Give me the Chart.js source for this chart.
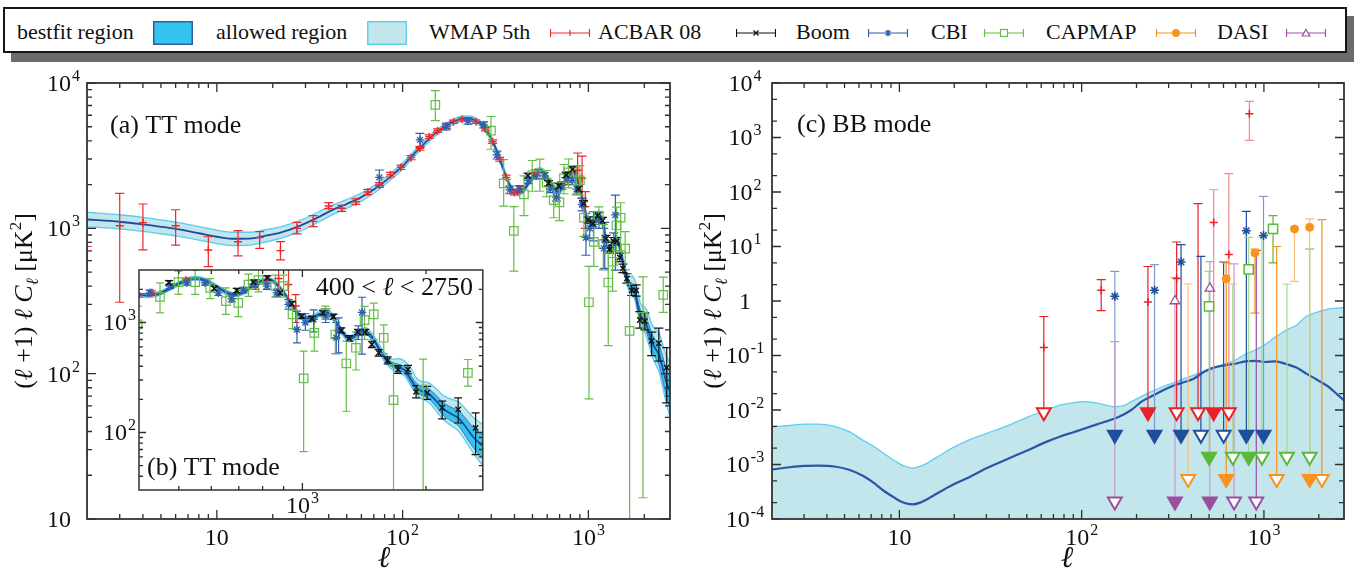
<!DOCTYPE html>
<html>
<head>
<meta charset="utf-8">
<title>CMB TT and BB power spectra</title>
<script src="https://cdn.jsdelivr.net/npm/chart.js@4.4.1/dist/chart.umd.min.js"></script>
<style>
  html, body { margin:0; padding:0; background:#fff; }
  #wrap { position:relative; width:1354px; height:572px; overflow:hidden; background:#fff;
          font-family:"Liberation Serif","Times New Roman",serif; color:#111; }
  #legendBox { position:absolute; left:3px; top:7px; width:1340px; height:42px; border:2px solid #151515;
               background:#fff; box-shadow:8px 9px 0 #6b6b6b; }
  .lt { position:absolute; top:21px; font-size:22px; line-height:22px; white-space:nowrap; }
  .sm { position:absolute; }
  canvas { position:absolute; }
</style>
</head>
<body>
<div id="wrap">
  <div id="legendBox"></div>
  <span class="lt" style="left:17px">bestfit region</span>
  <svg class="sm" style="left:153px;top:21px" width="40" height="24"><rect x="0.75" y="0.75" width="38.5" height="22.5" fill="#35c4ee" stroke="#2a5fa8" stroke-width="1.5"/></svg>
  <span class="lt" style="left:216px">allowed region</span>
  <svg class="sm" style="left:367px;top:21px" width="40" height="24"><rect x="0.75" y="0.75" width="38.5" height="22.5" fill="#c3e6ec" stroke="#62d0f2" stroke-width="1.5"/></svg>
  <span class="lt" style="left:429px">WMAP 5th</span>
  <svg class="sm" style="left:550px;top:26px" width="40" height="14" stroke="#ec2a2e" stroke-width="1.2" fill="none"><path d="M0.5 7H39.5M0.5 3V11M39.5 3V11M20 4V10M17 7H23"/></svg>
  <span class="lt" style="left:598px">ACBAR 08</span>
  <svg class="sm" style="left:736px;top:26px" width="40" height="14" stroke="#111" stroke-width="1.2" fill="none"><path d="M0.5 7H39.5M0.5 3V11M39.5 3V11M17.5 4.5L22.5 9.5M17.5 9.5L22.5 4.5"/></svg>
  <span class="lt" style="left:796px">Boom</span>
  <svg class="sm" style="left:868px;top:26px" width="40" height="14" stroke="#2f5fae" stroke-width="1.2" fill="none"><path d="M0.5 7H39.5M0.5 3V11M39.5 3V11M20 3.5V10.5M16.5 7H23.5M17.5 4.5L22.5 9.5M17.5 9.5L22.5 4.5"/></svg>
  <span class="lt" style="left:931px">CBI</span>
  <svg class="sm" style="left:984px;top:26px" width="40" height="14" stroke="#66bd47" stroke-width="1.2" fill="none"><path d="M0.5 7H16.5M23.5 7H39.5M0.5 3V11M39.5 3V11"/><rect x="16.5" y="3.5" width="7" height="7" fill="#fff"/></svg>
  <span class="lt" style="left:1046px">CAPMAP</span>
  <svg class="sm" style="left:1156px;top:26px" width="40" height="14" stroke="#f7931e" stroke-width="1.2" fill="none"><path d="M0.5 7H39.5M0.5 3V11M39.5 3V11"/><circle cx="20" cy="7" r="3.3" fill="#f7931e"/></svg>
  <span class="lt" style="left:1217px">DASI</span>
  <svg class="sm" style="left:1286px;top:26px" width="40" height="14" stroke="#9d52a1" stroke-width="1.2" fill="none"><path d="M0.5 7H39.5M0.5 3V11M39.5 3V11"/><path d="M20 3.5L23.8 10H16.2Z" fill="#fff"/></svg>

  <canvas id="cA" width="690" height="502" style="left:0px;top:70px"></canvas>
  <canvas id="cB" width="400" height="258" style="left:90px;top:262px"></canvas>
  <canvas id="cC" width="664" height="502" style="left:690px;top:70px"></canvas>
</div>

<script>
// ===================== DATA =====================
// --- TT: best-fit spectrum and allowed band, (l+1) l C_l [uK^2] ---
const ttEll      = [2,3,4,5,6,8,10,12,15,18,22,28,35,42,50,60,70,80,90,100,115,130,150,170,190,210,225,240,260,280,300,320,340,360,380,400,420,440,470,500,530,550,580,620,660,690,720,760,800,830,860,900,940,980,1010,1050,1100,1140,1180,1220,1260,1300,1340,1390,1430,1480,1540,1600,1660,1720,1780,1840,1900,1960,2020,2100,2200,2300,2400,2500,2600,2750];
const ttBest     = [1150,1110,1065,1025,990,925,875,848,850,885,935,1040,1190,1340,1470,1640,1850,2100,2380,2680,3250,3800,4500,5050,5450,5680,5720,5620,5300,4780,4150,3450,2800,2280,1950,1790,1750,1800,2000,2250,2480,2520,2420,2100,1830,1790,1880,2180,2420,2450,2280,1880,1480,1180,1090,1100,1200,1240,1150,950,790,710,740,820,830,730,570,460,410,390,365,300,255,236,228,200,165,148,135,112,92,75];
const ttAllowHi  = [1290,1240,1188,1142,1102,1028,972,940,940,975,1025,1135,1290,1445,1575,1748,1962,2218,2505,2812,3400,3968,4690,5255,5668,5905,5945,5842,5510,4970,4315,3588,2912,2372,2028,1862,1820,1872,2080,2340,2580,2620,2518,2185,1905,1862,1956,2268,2518,2550,2373,1958,1545,1235,1142,1155,1262,1306,1214,1005,838,756,790,880,895,792,625,510,462,470,440,380,308,290,286,258,218,202,190,163,138,118];
const ttAllowLo  = [1025,990,952,918,888,830,786,762,767,802,852,952,1098,1242,1372,1538,1744,1988,2260,2552,3106,3638,4316,4852,5240,5462,5502,5405,5096,4596,3990,3316,2692,2192,1874,1720,1682,1730,1922,2162,2383,2422,2325,2018,1758,1720,1806,2095,2325,2354,2190,1805,1418,1128,1040,1048,1142,1178,1090,898,745,668,695,768,775,678,525,420,370,348,322,262,220,200,190,163,132,116,103,83,66,50];
// --- TT: best-fit region band ---
const ttBandEll  = [400,440,500,550,620,690,760,830,900,980,1050,1140,1220,1300,1390,1480,1540,1600,1660,1720,1780,1840,1900,1960,2020,2100,2200,2300,2400,2500,2600,2750];
const ttBandHi   = [1830,1840,2300,2575,2145,1830,2225,2505,1920,1210,1125,1270,975,730,845,755,592,480,432,415,392,325,278,258,252,224,188,170,158,134,112,95];
const ttBandLo   = [1752,1762,2202,2465,2055,1750,2135,2395,1840,1150,1075,1210,925,690,795,705,548,440,390,368,340,278,233,216,206,178,144,128,115,92,74,58];

// --- TT measurements (null lower = extends below the axis) ---
const wmapEll = [2,3,4,6,9,13,17,22,27,33,40,47,56,65,75,86,98,111,124,139,154,172,188,209,248,279,305,333,361,399,430,520,770,817,875,925,963];
const wmapVal = [214,1042,1094,1042,710,809,863,702,1000,1116,1426,1374,1525,1778,1986,2340,2630,3064,3554,4274,4700,5010,5420,5620,5420,4820,3950,2987,2243,1765,1860,2430,2210,2450,2510,2213,1410];
const wmapLo  = [null,310,710,767,545,646,728,606,915,1026,1367,1310,1460,1705,1910,2255,2540,2965,3445,4150,4570,4880,5280,5480,5280,4690,3840,2900,2170,1700,1790,2340,2000,2250,2000,1618,1000];
const wmapHi  = [750,1740,1470,1342,875,964,948,809,1100,1222,1503,1440,1595,1855,2065,2430,2725,3165,3665,4400,4830,5145,5560,5765,5565,4955,4065,3075,2320,1835,1935,2530,2450,2670,3300,3140,1790];

const acbarEll = [473,610,692,760,822,883,942,997,1055,1122,1191,1244,1301,1365,1422,1476,1533,1613,1710,1808,1892,2013,2190,2395,2641];
const acbarVal = [2296,2037,1955,2328,2547,1862,1480,1142,1080,1224,1127,846,716,816,816,631,530,452,374,374,234,230,168,162,110];
const acbarLo  = [2200,1950,1870,2230,2440,1780,1410,1085,1025,1160,1065,800,675,770,770,590,495,420,345,342,206,200,133,122,63];
const acbarHi  = [2400,2130,2045,2430,2660,1950,1555,1200,1140,1290,1190,895,760,865,865,675,568,487,405,408,267,262,193,206,151];

const boomEll = [75,124,172,225,273,322,377,425,476,523,579,624,673,718,767,819,866,925,970,1017,1065,1140,1209,1225,1369,1397];
const boomVal = [2244,4060,5010,5475,5140,3200,1838,1862,2140,2296,2296,1862,1641,1968,2213,2140,1862,1459,863,1000,1065,1142,728,834,810,1236];
const boomLo  = [1960,3600,4750,5200,4900,3000,1730,1760,2030,2180,2180,1760,1540,1850,2080,2000,1720,1320,653,850,820,1000,520,530,700,516];
const boomHi  = [2520,4500,5300,5750,5400,3400,1950,1970,2250,2420,2420,1970,1750,2090,2350,2290,2010,1610,1268,1200,1300,1290,1000,1100,930,1695];

const cbiEll = [150,299,350,397,450,499,548,596,651,698,739,782,859,900,946,1007,1069,1138,1203,1279,1350,1417,1492,1578,1667,1968,2529];
const cbiVal = [7070,4700,2040,960,1711,2328,2328,2066,1563,1510,2213,2428,2140,2140,1183,310,806,1224,778,424,589,1050,1183,726,197,246,348];
const cbiLo  = [5510,3500,1420,508,1223,1800,1800,1650,1183,1130,1730,1900,1700,1700,880,67,548,1065,520,156,370,700,700,520,null,14,264];
const cbiHi  = [8850,5880,2970,1410,2296,2930,2990,2500,2066,1950,2750,3000,2700,2700,1520,548,1100,1407,1060,677,820,1400,1500,950,415,464,461];

// --- BB: allowed region (upper edge) and best fit ---
const bbEll     = [2,2.5,3,3.6,4.4,5.3,6.3,7.3,8.2,9.5,10.5,11.8,13,14.5,16,17.9,20,24,30,40,51,64,77,90,100,120,152,170,187,215,243,280,315,360,409,470,531,610,689,790,895,1020,1161,1320,1507,1720,1955,2250,2540,2750];
const bbAllowHi = [4.9e-3,5.2e-3,5.5e-3,5.5e-3,5.0e-3,4.0e-3,2.8e-3,2.1e-3,1.6e-3,1.15e-3,9.5e-4,8.6e-4,9.2e-4,1.1e-3,1.35e-3,1.7e-3,2.1e-3,2.8e-3,3.7e-3,5.3e-3,7.5e-3,1.0e-2,1.24e-2,1.36e-2,1.42e-2,1.35e-2,1.15e-2,1.2e-2,1.42e-2,1.8e-2,2.2e-2,2.7e-2,3.1e-2,3.7e-2,4.3e-2,5.2e-2,6.1e-2,7.0e-2,8.1e-2,1.05e-1,1.26e-1,1.6e-1,2.2e-1,2.9e-1,3.6e-1,5.3e-1,6.2e-1,7.1e-1,7.4e-1,7.6e-1];
const bbBest    = [8.1e-4,8.9e-4,9.4e-4,9.5e-4,9.2e-4,8.0e-4,6.2e-4,4.5e-4,3.3e-4,2.4e-4,2.0e-4,1.85e-4,2.0e-4,2.4e-4,2.9e-4,3.6e-4,4.4e-4,5.8e-4,8.5e-4,1.3e-3,1.85e-3,2.6e-3,3.3e-3,3.9e-3,4.4e-3,5.4e-3,7.0e-3,8.3e-3,1.0e-2,1.45e-2,1.8e-2,2.3e-2,2.75e-2,3.2e-2,3.7e-2,5.0e-2,6.0e-2,6.6e-2,7.0e-2,7.8e-2,8.0e-2,7.6e-2,7.8e-2,7.0e-2,6.0e-2,4.6e-2,3.6e-2,2.7e-2,1.9e-2,1.5e-2];

// --- BB measurements (null lower = upper limit, drawn as an arrow) ---
const bbWmapEll   = [62,128,231,332,435,530,642,832];
const bbWmapVal   = [0.14,1.57,0.96,2.6,null,27.7,7.1,2740];
const bbWmapHi    = [0.52,2.46,4.3,12.1,61,110,217,4600];
const bbWmapLo    = [null,0.665,null,null,null,null,null,887];
const bbWmapArrow = ['open',null,'filled','open','open','filled','open',null];
const bbWmapSet   = [1,1,1,1,1,2,2,2];

const bbBoomEll   = [152,251,351,451,601,801,995];
const bbBoomVal   = [1.22,1.57,5.2,null,null,19.5,16];
const bbBoomHi    = [3.5,4.65,10.8,6.6,5.2,44,83];
const bbBoomLo    = [null,null,null,null,null,null,null];
const bbBoomArrow = ['filled','filled','filled','open','open','filled','filled'];
const bbBoomSet   = [2,2,1,1,1,1,2];

const bbCbiEll    = [500,675,825,975,1122,1337,1782];
const bbCbiVal    = [0.8,null,3.8,null,21,null,null];
const bbCbiHi     = [3.5,2.05,14.7,15,36.8,2.05,9.0];
const bbCbiLo     = [null,null,null,null,5.0,null,null];
const bbCbiArrow  = ['filled','open','filled','open',null,'open','open'];
const bbCbiSet    = [2,2,2,2,1,2,1];

const bbCapmapEll   = [384,621,893,1175,1472,1782,2080];
const bbCapmapVal   = [null,2.57,7.6,null,21,22.5,null];
const bbCapmapHi    = [2.05,5.0,9.0,10,22.5,32,31];
const bbCapmapLo    = [null,null,0.6,null,2.3,null,null];
const bbCapmapArrow = ['open','filled',null,'open',null,'filled','open'];
const bbCapmapSet   = [2,1,1,1,2,2,1];

const bbDasiEll   = [152,325,505,686,908];
const bbDasiVal   = [null,1.0,1.7,null,null];
const bbDasiHi    = [0.18,2.7,5.3,4.8,8.5];
const bbDasiLo    = [null,null,null,null,null];
const bbDasiArrow = ['open','filled','filled','open','open'];
const bbDasiSet   = [2,2,2,2,1];

// level at which each experiment's upper-limit arrows end
const bbLimitLevel = { wmap: 9.1e-3, boom: 3.5e-3, cbi: 1.39e-3, capmap: 5.4e-4, dasi: 2.1e-4 };

// --- tick labels ---
const ttXTicks    = [10, 100, 1000];
const ttYTicks    = [10, 100, 1000, 10000];
const insetXTicks = [1000];
const insetYTicks = [100, 1000];
const bbXTicks    = [10, 100, 1000];
const bbYTicks    = [1e-4, 1e-3, 1e-2, 1e-1, 1, 10, 100, 1000, 10000];

// ===================== STYLE =====================
const FONT = '"Liberation Serif", "Times New Roman", serif';
const C = {
  allowFill: '#c3e6ec', allowEdge: '#58cdf0', bestFill: '#35c4ee', bestEdge: '#2f6fb6', line: '#1f4c9c',
  wmap: '#ec2a2e', acbar: '#111111', boom: '#2f5fae', cbi: '#66bd47', capmap: '#f7931e', dasi: '#9d52a1'
};
const SHADE = {
  wmap:   ['#ec1f26', '#f48a8d'],
  boom:   ['#1f4e9e', '#7c9bd2'],
  cbi:    ['#5cb83a', '#a3d98e'],
  capmap: ['#f7931e', '#fbbf7c'],
  dasi:   ['#9b4f9f', '#c79bca']
};

function pts(xs, ys) { return xs.map((x, i) => ({ x: x, y: ys[i] })); }

// ===================== PLUGINS =====================
function logTicks(min, max, minors) {
  const out = [];
  for (let e = Math.floor(Math.log10(min)) - 1; e <= Math.ceil(Math.log10(max)); e++) {
    const b = Math.pow(10, e);
    if (b >= min * 0.999 && b <= max * 1.001) out.push({ v: b, major: true });
    minors.forEach(m => { const v = m * b; if (v > min * 1.001 && v < max * 0.999) out.push({ v: v, major: false }); });
  }
  return out;
}

function drawPow(ctx, v, x, y, align, tenPow, F) {
  const e = Math.round(Math.log10(v));
  let base = '10', exp = String(e);
  if (e === 0) { base = '1'; exp = ''; }
  else if (e === 1 && !tenPow) exp = '';
  const fe = Math.round(F * 0.66);
  ctx.font = F + 'px ' + FONT; const wb = ctx.measureText(base).width;
  ctx.font = fe + 'px ' + FONT; const we = exp ? ctx.measureText(exp).width + 1 : 0;
  const x0 = align === 'right' ? x - wb - we : (align === 'center' ? x - (wb + we) / 2 : x);
  ctx.font = F + 'px ' + FONT; ctx.fillText(base, x0, y);
  if (exp) { ctx.font = fe + 'px ' + FONT; ctx.fillText(exp, x0 + wb + 1, y - F * 0.42); }
}

function drawRich(ctx, t) {
  let w = 0;
  const widths = t.segs.map(s => { ctx.font = s.f; const ww = ctx.measureText(s.t).width; w += ww; return ww; });
  ctx.save();
  ctx.translate(t.x, t.y);
  if (t.rotate) ctx.rotate(-Math.PI / 2);
  let x0 = t.align === 'center' ? -w / 2 : (t.align === 'right' ? -w : 0);
  const by = t.rotate ? (t.baseShift || 0) : 0;
  t.segs.forEach((s, i) => { ctx.font = s.f; ctx.fillText(s.t, x0, by + (s.dy || 0)); x0 += widths[i]; });
  ctx.restore();
}

const N26 = '26px ' + FONT, I26 = 'italic 26px ' + FONT, N17 = '17px ' + FONT, I17 = 'italic 17px ' + FONT;
const yTitleSegs = [
  { t: '(', f: N26 }, { t: 'ℓ', f: I26 }, { t: ' +1)', f: N26 }, { t: ' ', f: N26 }, { t: 'ℓ', f: I26 },
  { t: ' ', f: N26 }, { t: 'C', f: I26 }, { t: 'ℓ', f: I17, dy: 6 }, { t: ' [μK', f: N26 }, { t: '2', f: N17, dy: -11 }, { t: ']', f: N26 }
];

const decorCfg = {
  cA: { bg: false, xMinor: [2,3,4,5,6,7,8,9], yMinor: [2,3,4,5,6,7,8,9], majorLen: 9, minorLen: 5, frameWidth: 1.8,
        xLabels: ttXTicks, yLabels: ttYTicks, tenPowX: false, tenPowY: false, labelSize: 24, xLabelDy: 26,
        yAlign: 'left', yLabelX: 47,
        texts: [
          { segs: [{ t: '(a) TT mode', f: N26 }], x: 110, y: 63, align: 'left' },
          { segs: yTitleSegs, x: 23, y: 231, align: 'center', rotate: true, baseShift: 9 },
          { segs: [{ t: 'ℓ', f: 'italic 30px ' + FONT }], x: 384, y: 497, align: 'center' }
        ] },
  cB: { bg: true, xMinor: [2,3,4,5,6,7,8,9], yMinor: [2,3,4,5,6,7,8,9], majorLen: 7, minorLen: 4, frameWidth: 1.5,
        xLabels: insetXTicks, yLabels: insetYTicks, tenPowX: false, tenPowY: false, labelSize: 24, xLabelDy: 23,
        yAlign: 'right', yLabelX: 46,
        texts: [
          { segs: [{ t: '400 < ', f: N26 }, { t: 'ℓ', f: I26 }, { t: ' < 2750', f: N26 }], x: 383, y: 33, align: 'right' },
          { segs: [{ t: '(b) TT mode', f: N26 }], x: 57, y: 213, align: 'left' }
        ] },
  cC: { bg: false, xMinor: [2,3,4,5,6,7,8,9], yMinor: [2,5], majorLen: 9, minorLen: 5, frameWidth: 1.8,
        xLabels: bbXTicks, yLabels: bbYTicks, tenPowX: false, tenPowY: true, labelSize: 24, xLabelDy: 26,
        yAlign: 'center', yLabelX: 55,
        texts: [
          { segs: [{ t: '(c) BB mode', f: N26 }], x: 107, y: 62, align: 'left' },
          { segs: yTitleSegs, x: 22, y: 231, align: 'center', rotate: true, baseShift: 9 },
          { segs: [{ t: 'ℓ', f: 'italic 30px ' + FONT }], x: 377, y: 497, align: 'center' }
        ] }
};

const decorPlugin = {
  id: 'decor',
  beforeDraw(chart) {
    const o = decorCfg[chart.canvas.id];
    if (!o || !o.bg) return;
    const a = chart.chartArea, ctx = chart.ctx;
    ctx.save(); ctx.fillStyle = '#fff'; ctx.fillRect(a.left, a.top, a.right - a.left, a.bottom - a.top); ctx.restore();
  },
  afterDraw(chart) {
    const o = decorCfg[chart.canvas.id];
    if (!o) return;
    const ctx = chart.ctx, a = chart.chartArea, xs = chart.scales.x, ys = chart.scales.y;
    ctx.save();
    ctx.strokeStyle = '#2e2e2e'; ctx.lineWidth = 1.3;
    ctx.beginPath();
    logTicks(xs.min, xs.max, o.xMinor).forEach(t => {
      const p = xs.getPixelForValue(t.v), L = t.major ? o.majorLen : o.minorLen;
      ctx.moveTo(p, a.bottom); ctx.lineTo(p, a.bottom - L);
      ctx.moveTo(p, a.top); ctx.lineTo(p, a.top + L);
    });
    logTicks(ys.min, ys.max, o.yMinor).forEach(t => {
      const p = ys.getPixelForValue(t.v), L = t.major ? o.majorLen : o.minorLen;
      ctx.moveTo(a.left, p); ctx.lineTo(a.left + L, p);
      ctx.moveTo(a.right, p); ctx.lineTo(a.right - L, p);
    });
    ctx.stroke();
    ctx.lineWidth = o.frameWidth; ctx.strokeStyle = '#333';
    ctx.strokeRect(a.left, a.top, a.right - a.left, a.bottom - a.top);
    ctx.fillStyle = '#111'; ctx.textBaseline = 'alphabetic'; ctx.textAlign = 'left';
    o.xLabels.forEach(v => drawPow(ctx, v, xs.getPixelForValue(v), a.bottom + o.xLabelDy, 'center', o.tenPowX, o.labelSize));
    o.yLabels.forEach(v => drawPow(ctx, v, o.yLabelX, ys.getPixelForValue(v) + o.labelSize * 0.33, o.yAlign, o.tenPowY, o.labelSize));
    o.texts.forEach(t => drawRich(ctx, t));
    ctx.restore();
  }
};

// error bars are drawn right after the dataset with index errAfter[canvas id]
const errAfter = { cA: 4, cB: 4, cC: 1 };
const errCap = { cA: 4.5, cB: 4, cC: 4.5 };
const errorBarPlugin = {
  id: 'errorBars',
  afterDatasetDraw(chart, args) {
    const id = chart.canvas.id;
    if (args.index !== errAfter[id]) return;
    const ctx = chart.ctx, a = chart.chartArea, xs = chart.scales.x, ys = chart.scales.y, cap = errCap[id];
    ctx.save();
    ctx.beginPath(); ctx.rect(a.left, a.top, a.right - a.left, a.bottom - a.top); ctx.clip();
    ctx.lineWidth = 1.2;
    chart.data.datasets.forEach(ds => {
      if (!ds.errHi) return;
      ds.errX.forEach((l, i) => {
        const hi = ds.errHi[i], lo = ds.errLo[i];
        if (hi == null) return;
        const px = xs.getPixelForValue(l), pHi = ys.getPixelForValue(hi);
        let pLo, capLo = true;
        if (lo == null) { capLo = false; pLo = ds.errLevel != null ? ys.getPixelForValue(ds.errLevel) : a.bottom + 5; }
        else pLo = ys.getPixelForValue(lo);
        ctx.strokeStyle = Array.isArray(ds.errColor) ? ds.errColor[i] : ds.errColor;
        ctx.beginPath();
        ctx.moveTo(px, pHi); ctx.lineTo(px, pLo);
        ctx.moveTo(px - cap, pHi); ctx.lineTo(px + cap, pHi);
        if (capLo) { ctx.moveTo(px - cap, pLo); ctx.lineTo(px + cap, pLo); }
        ctx.stroke();
      });
    });
    ctx.restore();
  }
};

// ===================== DATASETS =====================
function curve(label, xs, ys, color, width, extra) {
  return Object.assign({ label: label, data: pts(xs, ys), borderColor: color, borderWidth: width, pointRadius: 0,
                         fill: false, cubicInterpolationMode: 'monotone' }, extra || {});
}
function measured(label, ell, val, lo, hi, color, style, r, bw, bg, order) {
  return { label: label, data: pts(ell, val), errX: ell, errLo: lo, errHi: hi, errColor: color,
           showLine: false, borderColor: color, pointStyle: style, pointRadius: r, pointBorderWidth: bw,
           pointBorderColor: color, pointBackgroundColor: bg, order: order };
}
function ttDatasets() {
  return [
    curve('allowed region', ttEll, ttAllowHi, C.allowEdge, 1.3, { backgroundColor: C.allowFill, fill: '+1', order: 9 }),
    curve('allowed region (lower)', ttEll, ttAllowLo, C.allowEdge, 1.3, { order: 8 }),
    curve('bestfit region', ttBandEll, ttBandHi, C.bestEdge, 0.9, { backgroundColor: C.bestFill, fill: '+1', order: 7 }),
    curve('bestfit region (lower)', ttBandEll, ttBandLo, C.bestEdge, 0.9, { order: 6 }),
    curve('best fit', ttEll, ttBest, C.line, 1.8, { order: 5 }),
    measured('WMAP 5th', wmapEll, wmapVal, wmapLo, wmapHi, C.wmap, 'cross', 4, 1.4, 'rgba(0,0,0,0)', 4),
    measured('ACBAR 08', acbarEll, acbarVal, acbarLo, acbarHi, C.acbar, 'crossRot', 3.8, 1.4, 'rgba(0,0,0,0)', 1),
    measured('Boom', boomEll, boomVal, boomLo, boomHi, C.boom, 'star', 4.2, 1.3, 'rgba(0,0,0,0)', 2),
    measured('CBI', cbiEll, cbiVal, cbiLo, cbiHi, C.cbi, 'rect', 6, 1.2, 'rgba(0,0,0,0)', 3)
  ];
}
function bbExperiment(label, key, ell, val, hi, lo, arrow, set, style, r, bw, bg, order) {
  const dark = SHADE[key][0], light = SHADE[key][1];
  const cols = set.map(s => s === 2 ? light : dark);
  const marks = { label: label, data: pts(ell, val), errX: ell, errLo: lo, errHi: hi, errColor: cols,
                  errLevel: bbLimitLevel[key], showLine: false, borderColor: dark, pointStyle: style,
                  pointRadius: r, pointBorderWidth: bw, pointBorderColor: dark,
                  pointBackgroundColor: bg === 'fill' ? dark : bg, order: order };
  const arrows = { label: label + ' upper limits', data: pts(ell, arrow.map(k => k ? bbLimitLevel[key] : null)),
                   showLine: false, borderColor: dark, pointStyle: 'triangle', pointRotation: 180, pointRadius: 8,
                   pointBorderWidth: 2, pointBorderColor: dark,
                   pointBackgroundColor: arrow.map(k => k === 'filled' ? dark : '#ffffff'), order: order - 5 };
  return [marks, arrows];
}
function bbDatasets() {
  return [
    curve('allowed region', bbEll, bbAllowHi, '#5ccff2', 1.3, { backgroundColor: C.allowFill, fill: 'start', order: 30 }),
    curve('best fit', bbEll, bbBest, '#2a56a6', 2.2, { order: 29 }),
    ...bbExperiment('WMAP 5th', 'wmap', bbWmapEll, bbWmapVal, bbWmapHi, bbWmapLo, bbWmapArrow, bbWmapSet, 'cross', 4, 1.5, 'rgba(0,0,0,0)', 10),
    ...bbExperiment('Boom', 'boom', bbBoomEll, bbBoomVal, bbBoomHi, bbBoomLo, bbBoomArrow, bbBoomSet, 'star', 4.5, 1.5, 'rgba(0,0,0,0)', 11),
    ...bbExperiment('CBI', 'cbi', bbCbiEll, bbCbiVal, bbCbiHi, bbCbiLo, bbCbiArrow, bbCbiSet, 'rect', 6.5, 1.5, '#ffffff', 12),
    ...bbExperiment('CAPMAP', 'capmap', bbCapmapEll, bbCapmapVal, bbCapmapHi, bbCapmapLo, bbCapmapArrow, bbCapmapSet, 'circle', 4, 1, 'fill', 13),
    ...bbExperiment('DASI', 'dasi', bbDasiEll, bbDasiVal, bbDasiHi, bbDasiLo, bbDasiArrow, bbDasiSet, 'triangle', 5.5, 1.3, '#ffffff', 14)
  ];
}

// ===================== CHARTS =====================
function logAxis(min, max, pos, size) {
  return { type: 'logarithmic', min: min, max: max, position: pos, bounds: 'data',
           grid: { display: false }, border: { display: false }, ticks: { display: false },
           afterFit: s => { if (pos === 'bottom') s.height = size; else s.width = size; } };
}
function baseOptions(xmin, xmax, ymin, ymax, xh, yw, pad) {
  return { responsive: false, animation: false, devicePixelRatio: 1, events: [],
           layout: { padding: pad },
           scales: { x: logAxis(xmin, xmax, 'bottom', xh), y: logAxis(ymin, ymax, 'left', yw) },
           plugins: { legend: { display: false }, tooltip: { enabled: false } } };
}

new Chart(document.getElementById('cA'), {
  type: 'line', data: { datasets: ttDatasets() },
  options: baseOptions(2, 2750, 10, 10000, 53, 87, { left: 0, top: 13, right: 20, bottom: 0 }),
  plugins: [decorPlugin, errorBarPlugin]
});
new Chart(document.getElementById('cB'), {
  type: 'line', data: { datasets: ttDatasets() },
  options: baseOptions(400, 2750, 30, 3000, 30, 49, { left: 0, top: 8, right: 7, bottom: 0 }),
  plugins: [decorPlugin, errorBarPlugin]
});
new Chart(document.getElementById('cC'), {
  type: 'line', data: { datasets: bbDatasets() },
  options: baseOptions(2, 2750, 1e-4, 1e4, 53, 82, { left: 0, top: 13, right: 5, bottom: 0 }),
  plugins: [decorPlugin, errorBarPlugin]
});
</script>
</body>
</html>
